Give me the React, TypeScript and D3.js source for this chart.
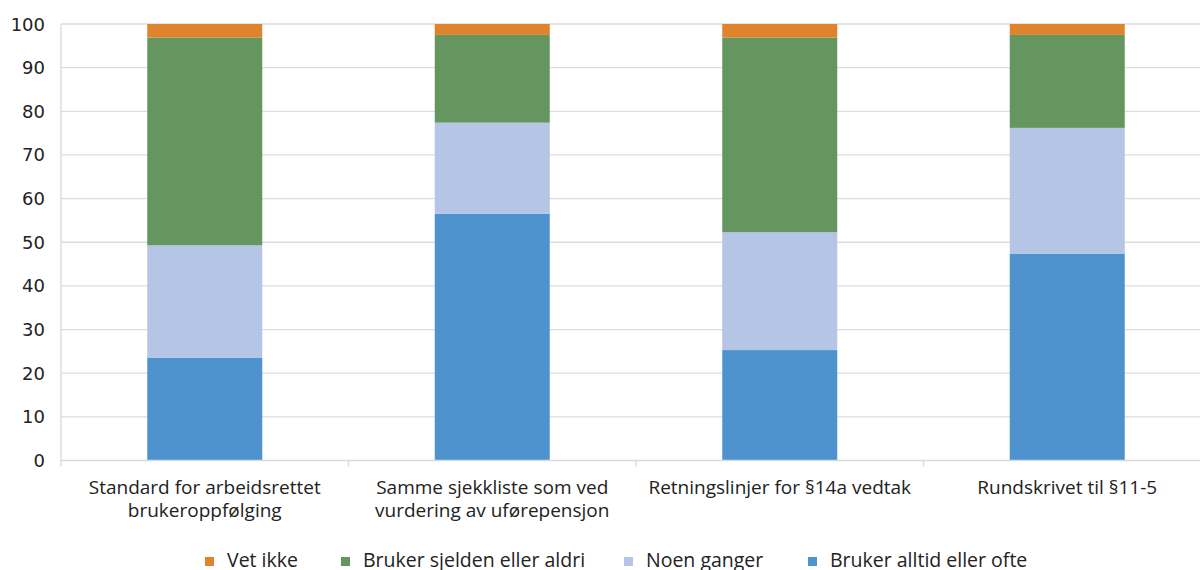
import React, { useEffect, useRef } from "react";
import * as d3 from "d3";

const categories: string[][] = [
  ["Standard for arbeidsrettet", "brukeroppfølging"],
  ["Samme sjekkliste som ved", "vurdering av uførepensjon"],
  ["Retningslinjer for §14a vedtak"],
  ["Rundskrivet til §11-5"],
];
const seriesNames = ["Bruker alltid eller ofte", "Noen ganger", "Bruker sjelden eller aldri", "Vet ikke"];
const alltid = [23.5, 56.5, 25.3, 47.4];
const noen = [25.8, 20.9, 27.0, 28.8];
const sjelden = [47.6, 20.1, 44.6, 21.3];
const vetIkke = [3.1, 2.5, 3.1, 2.5];
const yTicks = [0, 10, 20, 30, 40, 50, 60, 70, 80, 90, 100];

const colors = ["#4F93CE", "#B4C5E5", "#66965F", "#E0832D"];
const legendOrder = [3, 2, 1, 0];
const legendX = [205, 341, 624, 808];

export default function App() {
  const ref = useRef<SVGSVGElement>(null);
  useEffect(() => {
    const svg = d3.select(ref.current);
    svg.selectAll("*").remove();
    const left = 61, right = 1211, top = 24, bottom = 460.5;
    const x = d3.scaleBand<number>().domain(d3.range(categories.length)).range([left, right]).paddingInner(0.6).paddingOuter(0.3);
    const band = d3.scaleBand<number>().domain(d3.range(categories.length)).range([left, right]);
    const y = d3.scaleLinear().domain([0, 100]).range([bottom, top]);
    const font = "'DejaVu Sans', Verdana, sans-serif";
    const font2 = "'Open Sans', sans-serif";

    // gridlines
    svg.append("g").selectAll("line").data(yTicks.filter((t) => t > 0)).join("line")
      .attr("x1", left).attr("x2", 1200).attr("y1", (d) => y(d)).attr("y2", (d) => y(d))
      .attr("stroke", "#DDDDDD").attr("stroke-width", 1.3);

    // bars
    const rows = categories.map((_, i) => ({ i, a: alltid[i], n: noen[i], s: sjelden[i], v: vetIkke[i] }));
    const stack = d3.stack<any>().keys(["a", "n", "s", "v"])(rows);
    svg.append("g").selectAll("g").data(stack).join("g")
      .attr("fill", (_, k) => colors[k])
      .selectAll("rect").data((d) => d).join("rect")
      .attr("x", (d: any) => x(d.data.i)!)
      .attr("width", x.bandwidth())
      .attr("y", (d: any) => y(d[1]))
      .attr("height", (d: any) => y(d[0]) - y(d[1]));

    // axes lines
    svg.append("line").attr("x1", left).attr("x2", left).attr("y1", top).attr("y2", bottom)
      .attr("stroke", "#D9D9D9").attr("stroke-width", 1.3);
    svg.append("line").attr("x1", left).attr("x2", 1200).attr("y1", bottom).attr("y2", bottom)
      .attr("stroke", "#D9D9D9").attr("stroke-width", 1.3);
    svg.append("g").selectAll("line").data(d3.range(categories.length + 1)).join("line")
      .attr("x1", (d) => left + d * band.bandwidth()).attr("x2", (d) => left + d * band.bandwidth())
      .attr("y1", bottom).attr("y2", bottom + 6)
      .attr("stroke", "#D9D9D9").attr("stroke-width", 1.3);

    // y labels
    svg.append("g").selectAll("text").data(yTicks).join("text")
      .attr("x", 45).attr("y", (d) => y(d) + 6.5)
      .attr("text-anchor", "end").attr("font-family", font).attr("font-size", 18)
      .attr("fill", "#222").text((d) => d);

    // category labels
    const cg = svg.append("g").selectAll("text").data(categories).join("text")
      .attr("x", (_, i) => band(i)! + band.bandwidth() / 2)
      .attr("y", 493.5)
      .attr("text-anchor", "middle").attr("font-family", font2).attr("font-size", 19).attr("fill", "#222");
    cg.selectAll("tspan").data((d) => d).join("tspan")
      .attr("x", function () { return (this as any).parentNode.getAttribute("x"); })
      .attr("dy", (_, j) => (j === 0 ? 0 : 23)).text((d) => d);

    // legend
    const lg = svg.append("g").selectAll("g").data(legendOrder).join("g")
      .attr("transform", (_, i) => `translate(${legendX[i]},567)`);
    lg.append("rect").attr("x", 0).attr("y", -10).attr("width", 9).attr("height", 9).attr("fill", (k) => colors[k]);
    lg.append("text").attr("x", 22).attr("y", 0).attr("font-family", font2).attr("font-size", 19.5)
      .attr("fill", "#222").text((k) => seriesNames[k]);
  }, []);
  return <svg ref={ref} width={1200} height={570} style={{ position: "absolute", left: 0, top: 0, background: "#fff" }} />;
}
